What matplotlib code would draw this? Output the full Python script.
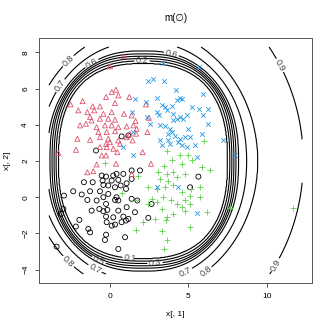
import numpy as np
import matplotlib
matplotlib.use("Agg")
import matplotlib.pyplot as plt

plt.rcParams['font.family'] = ['Liberation Sans', 'DejaVu Sans']

# ---- cluster 1: black circles
c1_x = [0.74, -0.89, 1.91, -0.53, -0.25, 0.21, 0.42, 0.85, 1.38, -1.66, -1.10, -0.47, 0.11, 0.53,
        1.06, 1.38, -0.42, -0.11, 0.32, 0.68, -2.34, -1.80, -1.27, -0.64, -0.11, 0.42, 1.02, -2.93,
        -1.44, -0.85, -0.42, 0.32, 0.53, 1.38, 1.74, 2.65, 1.06, -0.68, -0.25, -2.97, -1.17, -0.42,
        -0.17, 0.53, 1.59, -3.12, -1.95, -0.25, 0.21, 0.85, 1.17, 2.44, -2.17, -1.38, -1.27, -0.21,
        0.11, 0.32, 0.74, 1.02, -0.25, -0.32, 0.96, -3.40, 0.53, 5.10, 5.63, 1.17]
c1_y = [3.36, 2.58, 1.48, 1.20, 1.14, 1.20, 1.29, 1.29, 1.48, 0.83, 0.83, 0.92, 0.92, 0.96,
        0.77, 1.01, 0.68, 0.65, 0.55, 0.65, 0.33, 0.15, 0.33, 0.33, 0.18, 0.00, 0.46, 0.09,
        -0.15, -0.18, 0.00, -0.15, -0.18, -0.09, -0.18, -0.37, -0.55, -0.65, -0.37, -0.65, -0.74, -0.77,
        -0.70, -0.74, -0.83, -0.92, -1.25, -1.07, -1.11, -1.07, -1.20, -1.14, -1.62, -1.75, -1.94, -1.38,
        -1.57, -1.51, -1.38, -1.29, -2.07, -2.36, -2.21, -2.73, -2.86, 0.55, 1.14, 3.41]

# ---- cluster 2: red triangles
c2_x = [0.89, 0.00, 0.38, 0.11, -0.25, 0.53, 1.23, 2.29, -1.74, -2.51, -1.10, -0.64, 0.32, -2.02,
        -1.44, -1.00, 0.89, 0.11, -0.42, -1.91, -1.27, -1.17, -0.64, -0.11, 0.32, 1.38, 1.63, 2.48,
        -1.53, -0.85, -0.32, 0.11, 0.53, 1.06, 1.49, 1.70, -0.74, -0.21, 0.32, 1.27, 1.66, 2.38,
        -0.64, -0.11, 0.53, 1.06, -2.08, -1.27, -0.25, 0.00, 0.64, 1.44, -2.17, -0.64, -0.21, 0.21,
        0.47, -3.29, -0.53, -0.25, 2.08, -0.85, 0.38, 2.61, -1.44, 1.38, -1.06]
c2_y = [7.79, 7.23, 5.94, 5.81, 5.54, 5.63, 5.54, 5.13, 5.31, 5.13, 5.02, 5.02, 5.20, 4.80,
        4.70, 4.80, 4.61, 4.70, 4.61, 3.97, 4.43, 4.24, 4.34, 4.34, 4.28, 4.52, 4.21, 4.39,
        4.06, 3.87, 3.97, 3.97, 3.87, 3.91, 3.97, 3.78, 3.60, 3.60, 3.65, 3.51, 3.51, 3.60,
        3.32, 3.23, 3.14, 3.32, 3.23, 3.17, 2.95, 3.04, 2.95, 3.14, 2.62, 2.77, 2.77, 2.68,
        2.49, 2.44, 2.31, 2.31, 2.49, 1.81, 1.85, 1.85, 1.38, 1.29, 1.44]

# ---- cluster 3: green plus
c3_x = [5.99, 3.61, 4.46, 4.95, 3.93, 3.46, 4.57, 5.20, 5.84, 6.37, 3.08, 3.61, 4.03, 4.25,
        4.78, 3.18, 3.72, 1.80, 2.44, 2.97, 3.50, 4.03, 4.57, 5.14, 5.73, 5.73, 2.65, 2.97,
        3.40, 3.86, 4.25, 4.78, 5.10, 2.44, 3.29, 4.03, 3.61, 4.57, 4.78, 5.10, 6.16, 1.70,
        2.12, 2.87, 3.54, 1.66, 3.29, 5.10, 3.61, 3.44, 11.68, 7.64, -0.32, 0.74]
c3_y = [3.10, 2.58, 2.31, 2.31, 2.07, 1.75, 1.85, 2.03, 1.66, 1.48, 1.38, 1.29, 1.38, 1.11,
        1.29, 1.01, 0.92, 1.20, 0.55, 0.46, 0.55, 0.65, 0.28, 0.46, 0.55, 0.00, -0.09, -0.28,
        0.00, -0.18, -0.37, -0.18, 0.09, -0.37, -0.65, -0.92, -1.11, -0.55, -0.74, -0.37, -0.83, -0.18,
        -1.38, -1.20, -1.25, -1.81, -1.88, -1.62, -2.36, -2.86, -0.59, -0.59, 1.88, 0.22]

# ---- cluster 4: blue crosses
c4_x = [3.35, 5.69, 2.44, 2.76, 3.44, 4.20, 5.94, 1.59, 2.97, 4.25, 4.46, 4.57, 2.29, 1.38,
        3.29, 3.50, 3.93, 5.24, 5.69, 6.26, 5.94, 2.34, 2.97, 3.14, 3.61, 4.03, 4.25, 4.46,
        4.63, 4.88, 4.03, 2.55, 3.18, 3.50, 3.82, 6.26, 1.44, 3.72, 3.93, 4.14, 4.99, 3.18,
        3.72, 4.46, 4.78, 5.10, 5.84, 7.22, 3.29, 3.82, 4.35, 4.57, 4.88, 5.41, 0.85, 7.96,
        1.49, 5.52, 2.97, 4.35, 5.52]
c4_y = [7.42, 7.20, 6.42, 6.55, 6.42, 5.94, 5.72, 5.44, 5.50, 5.35, 5.50, 5.44, 5.26, 4.70,
        5.07, 4.98, 5.02, 4.98, 4.89, 4.89, 4.52, 4.43, 4.70, 4.52, 4.80, 4.61, 4.34, 4.43,
        4.34, 4.52, 4.28, 4.06, 3.97, 3.91, 3.78, 4.06, 3.60, 3.51, 3.60, 3.41, 3.78, 3.14,
        3.14, 3.23, 3.32, 3.32, 3.47, 3.14, 2.86, 2.95, 3.04, 2.86, 2.77, 2.86, 2.77, 2.36,
        2.31, 2.21, 0.59, 0.55, -0.89]

# ---- contour field m(empty set): level radii
levels = [0.1, 0.2, 0.3, 0.4, 0.5, 0.6, 0.7, 0.8, 0.9]
level_radius = [5.40, 5.53, 5.66, 5.79, 5.92, 6.08, 6.60, 7.30, 10.20]
field_center = (2.1, 2.0)
corner_power = 2.5
grid_x_range = (-3.88, 12.23)
grid_y_range = (-4.24, 8.30)

label_pos = {
    0.1: [(1.27, -3.35)],
    0.2: [(2.04, 7.54)],
    0.3: [(2.87, -3.67)],
    0.5: [(-0.64, -3.33)],
    0.6: [(-1.15, 7.37), (3.95, 8.04)],
    0.7: [(-3.06, 6.10), (-0.96, -3.95), (4.59, -3.79)],
    0.8: [(-2.74, 7.60), (-3.00, -3.85), (5.92, -3.90)],
    0.9: [(10.8, 7.27), (10.4, -3.70)],
}

gx = np.linspace(*grid_x_range, 400)
gy = np.linspace(*grid_y_range, 400)
GX, GY = np.meshgrid(gx, gy)
DX = np.abs(GX - field_center[0])
DY = np.abs(GY - field_center[1])
R2 = np.hypot(DX, DY)
RP = (DX**corner_power + DY**corner_power)**(1.0 / corner_power)
t = np.clip((R2 - 6.0) / 1.0, 0, 1)
REFF = (1 - t) * RP + t * R2
Z = np.interp(REFF, [0.0] + level_radius + [16.0], [0.0] + levels + [0.97])

fig = plt.figure(figsize=(3.32, 3.32), dpi=100)
ax = fig.add_axes([0.1175, 0.1476, 0.8225, 0.738])

for lev in levels:
    cs = ax.contour(GX, GY, Z, levels=[lev], colors='black', linewidths=0.8)
    if lev in label_pos:
        ax.clabel(cs, fmt='%.1f', fontsize=6.5, inline=True, inline_spacing=2,
                  manual=label_pos[lev], colors='#444444')

ms = 3.6
ax.scatter(c1_x, c1_y, marker='o', s=ms**2, facecolors='none', edgecolors='black', linewidths=0.6, zorder=3)
ax.scatter(c2_x, c2_y, marker='^', s=ms**2, facecolors='none', edgecolors='#DF536B', linewidths=0.6, zorder=3)
ax.scatter(c3_x, c3_y, marker='+', s=(ms*1.3)**2, color='#61D04F', linewidths=0.6, zorder=3)
ax.scatter(c4_x, c4_y, marker='x', s=(ms*0.9)**2, color='#2297E6', linewidths=0.6, zorder=3)

ax.set_xlim(-4.52, 12.87)
ax.set_ylim(-4.74, 8.80)
ax.set_xticks([0, 5, 10])
ax.set_yticks([-4, -2, 0, 2, 4, 6, 8])
ax.tick_params(labelsize=6, length=3, width=0.6, color='#333333', pad=4)
for lbl in ax.get_yticklabels():
    lbl.set_rotation(90)
    lbl.set_va('center')
for s in ax.spines.values():
    s.set_linewidth(0.7)
    s.set_color('#555555')

ax.set_xlabel('x[, 1]', fontsize=6, labelpad=8)
ax.set_ylabel('x[, 2]', fontsize=6, labelpad=8)
ax.set_title('m(\u2205)', fontsize=7, pad=12)

fig.savefig('out.png', dpi=100)
